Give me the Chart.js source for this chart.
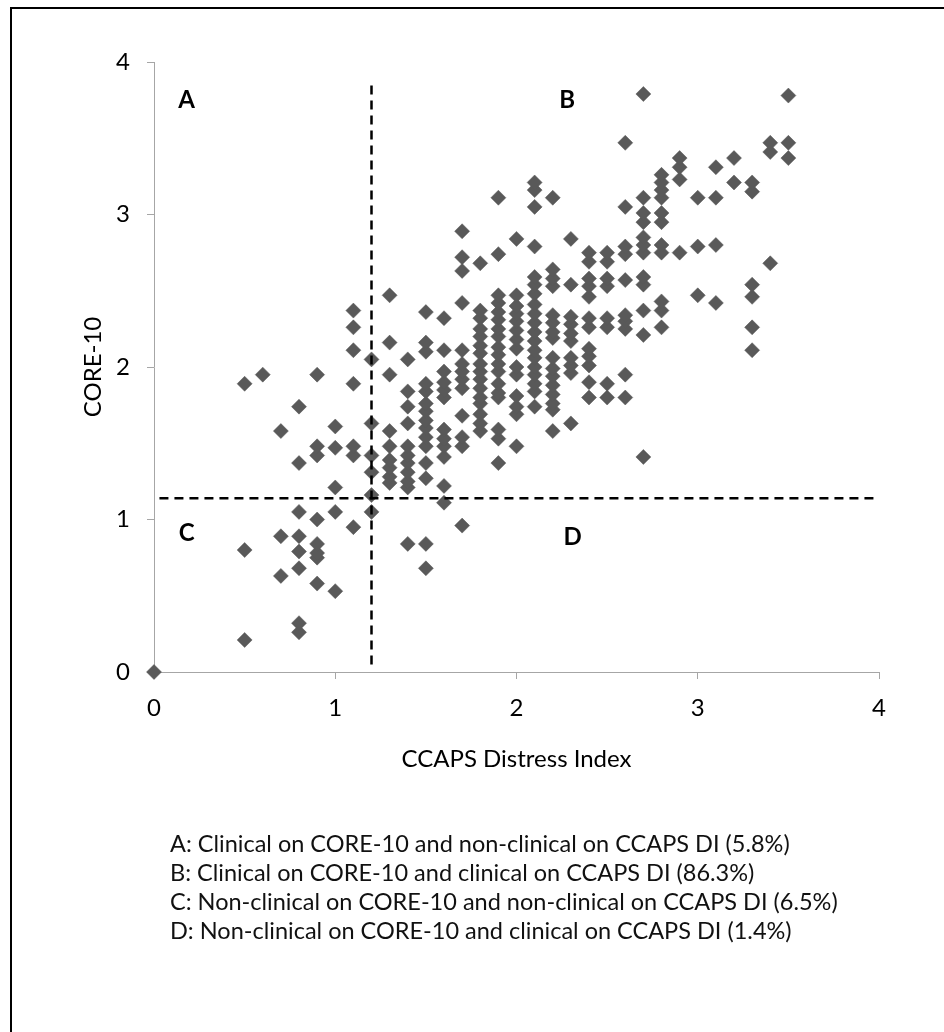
<!DOCTYPE html>
<html>
<head>
<meta charset="utf-8">
<script src="https://cdn.jsdelivr.net/npm/chart.js@4.4.1/dist/chart.umd.min.js"></script>
<style>
  html, body { margin: 0; padding: 0; background: #fff; }
  body { width: 944px; height: 1032px; position: relative; overflow: hidden; font-family: Lato, "Open Sans", sans-serif; }
  #frame { position: absolute; left: 10px; top: 7px; width: 1000px; height: 1100px; border-left: 2px solid #000; border-top: 2px solid #000; }
  #chart { position: absolute; left: 0; top: 0; }
  #notes { position: absolute; left: 170px; top: 829px; font-size: 23.5px; font-weight: 400; line-height: 29px; color: #111; white-space: nowrap; }
</style>
</head>
<body>
<div id="frame"></div>
<canvas id="chart" width="944" height="1032"></canvas>
<div id="notes"></div>
<script>
// CCAPS Distress Index levels and the CORE-10 scores observed at each level
const ccapsLevels = [0, 0.5, 0.6, 0.7, 0.8, 0.9, 1.0, 1.1, 1.2, 1.3, 1.4, 1.5, 1.6, 1.7, 1.8, 1.9, 2.0, 2.1, 2.2, 2.3, 2.4, 2.5, 2.6, 2.7, 2.8, 2.9, 3.0, 3.1, 3.2, 3.3, 3.4, 3.5];
const core10Scores = [
  [0],
  [0.21, 0.80, 1.89],
  [1.95],
  [0.63, 0.89, 1.58],
  [0.26, 0.32, 0.68, 0.79, 0.89, 1.05, 1.37, 1.74],
  [0.58, 0.75, 0.78, 0.84, 1.00, 1.42, 1.48, 1.95],
  [0.53, 1.05, 1.21, 1.47, 1.61],
  [0.95, 1.42, 1.48, 1.89, 2.11, 2.26, 2.37],
  [1.05, 1.16, 1.31, 1.42, 1.63, 2.05],
  [1.24, 1.28, 1.34, 1.39, 1.48, 1.58, 1.95, 2.16, 2.47],
  [0.84, 1.21, 1.25, 1.31, 1.37, 1.42, 1.48, 1.63, 1.74, 1.84, 2.05],
  [0.68, 0.84, 1.27, 1.37, 1.48, 1.54, 1.60, 1.65, 1.71, 1.76, 1.84, 1.89, 2.10, 2.16, 2.36],
  [1.11, 1.22, 1.41, 1.48, 1.53, 1.59, 1.80, 1.85, 1.90, 1.97, 2.11, 2.32],
  [0.96, 1.48, 1.54, 1.68, 1.86, 1.92, 1.97, 2.02, 2.11, 2.42, 2.63, 2.72, 2.89],
  [1.58, 1.63, 1.69, 1.76, 1.80, 1.86, 1.92, 1.97, 2.02, 2.09, 2.14, 2.20, 2.25, 2.32, 2.37, 2.68],
  [1.37, 1.53, 1.59, 1.80, 1.83, 1.89, 1.97, 2.02, 2.08, 2.13, 2.20, 2.25, 2.31, 2.36, 2.42, 2.47, 2.74, 3.11],
  [1.48, 1.69, 1.74, 1.81, 1.95, 2.00, 2.12, 2.18, 2.24, 2.30, 2.35, 2.40, 2.47, 2.84],
  [1.74, 1.84, 1.89, 1.95, 2.00, 2.06, 2.11, 2.17, 2.23, 2.29, 2.35, 2.41, 2.48, 2.54, 2.59, 2.79, 3.05, 3.16, 3.21],
  [1.58, 1.72, 1.76, 1.82, 1.88, 1.94, 1.99, 2.06, 2.19, 2.23, 2.29, 2.34, 2.53, 2.58, 2.64, 3.11],
  [1.63, 1.96, 2.01, 2.06, 2.17, 2.22, 2.28, 2.33, 2.54, 2.84],
  [1.80, 1.90, 2.01, 2.07, 2.12, 2.26, 2.32, 2.46, 2.53, 2.58, 2.69, 2.75],
  [1.80, 1.89, 2.26, 2.32, 2.53, 2.58, 2.69, 2.75],
  [1.80, 1.95, 2.25, 2.30, 2.34, 2.57, 2.74, 2.79, 3.05, 3.47],
  [1.41, 2.21, 2.37, 2.54, 2.59, 2.75, 2.80, 2.85, 2.95, 3.01, 3.11, 3.79],
  [2.26, 2.37, 2.43, 2.75, 2.80, 2.95, 3.01, 3.11, 3.16, 3.21, 3.26],
  [2.75, 3.23, 3.31, 3.37],
  [2.47, 2.79, 3.11],
  [2.42, 2.80, 3.11, 3.31],
  [3.21, 3.37],
  [2.11, 2.26, 2.46, 2.54, 3.15, 3.21],
  [2.68, 3.41, 3.47],
  [3.37, 3.47, 3.78]
];

// Clinical cut-offs on each measure
const ccapsCutoff = 1.2;
const core10Cutoff = 1.14;

// Axis tick values
const axisTicks = [0, 1, 2, 3, 4];

// Quadrant letters and the notes describing them
const quadrantLetters = ['A', 'B', 'C', 'D'];
const quadrantNotes = [
  'A: Clinical on CORE-10 and non-clinical on CCAPS DI (5.8%)',
  'B: Clinical on CORE-10 and clinical on CCAPS DI (86.3%)',
  'C: Non-clinical on CORE-10 and non-clinical on CCAPS DI (6.5%)',
  'D: Non-clinical on CORE-10 and clinical on CCAPS DI (1.4%)'
];

const points = [];
ccapsLevels.forEach((x, i) => core10Scores[i].forEach(y => points.push({ x: x, y: y })));

document.getElementById('notes').innerHTML = quadrantNotes.map(t => '<div>' + t + '</div>').join('');

const textFont = { family: 'Lato', size: 24, weight: '400' };
const axisGrey = '#a6a6a6';

// Letters placed in each quadrant, in data units
const letterAnchors = [
  { x: 0.18, y: 3.75 }, { x: 2.28, y: 3.75 },
  { x: 0.18, y: 0.91 }, { x: 2.31, y: 0.885 }
];
const quadrantLabelPlugin = {
  id: 'quadrantLabels',
  afterDatasetsDraw(chart) {
    const { ctx, scales } = chart;
    ctx.save();
    ctx.font = 'bold 24px Lato';
    ctx.fillStyle = '#000';
    ctx.textAlign = 'center';
    ctx.textBaseline = 'middle';
    quadrantLetters.forEach((letter, i) => {
      ctx.fillText(letter, scales.x.getPixelForValue(letterAnchors[i].x), scales.y.getPixelForValue(letterAnchors[i].y));
    });
    ctx.restore();
  }
};

new Chart(document.getElementById('chart'), {
  type: 'scatter',
  data: {
    datasets: [
      {
        type: 'line',
        data: [{ x: ccapsCutoff, y: 0.05 }, { x: ccapsCutoff, y: 3.875 }],
        borderColor: '#000', borderWidth: 2.5, borderDash: [9, 6],
        pointRadius: 0, fill: false, order: 0
      },
      {
        type: 'line',
        data: [{ x: 0.03, y: core10Cutoff }, { x: 4, y: core10Cutoff }],
        borderColor: '#000', borderWidth: 2.5, borderDash: [9, 6],
        pointRadius: 0, fill: false, order: 0
      },
      {
        data: points,
        pointStyle: 'rectRot', pointRadius: 7.5,
        backgroundColor: '#595959', borderColor: '#595959', borderWidth: 0.5,
        clip: false, order: 1
      }
    ]
  },
  options: {
    responsive: false,
    animation: false,
    devicePixelRatio: 1,
    layout: { padding: { top: 62, right: 65, left: 0, bottom: 0 } },
    plugins: { legend: { display: false }, tooltip: { enabled: false } },
    scales: {
      x: {
        type: 'linear', min: 0, max: 4,
        afterBuildTicks: s => { s.ticks = axisTicks.map(v => ({ value: v })); },
        ticks: { padding: 15, font: textFont, color: '#000' },
        grid: { drawOnChartArea: false, tickLength: 7, color: axisGrey },
        border: { color: axisGrey, width: 1 },
        title: { display: true, text: 'CCAPS Distress Index', font: textFont, color: '#000', padding: { top: 0, bottom: 258 } },
        afterFit: s => { s.height = 360; }
      },
      y: {
        type: 'linear', min: 0, max: 4,
        afterBuildTicks: s => { s.ticks = axisTicks.map(v => ({ value: v })); },
        ticks: { padding: 17, font: textFont, color: '#000' },
        grid: { drawOnChartArea: false, tickLength: 7, color: axisGrey },
        border: { color: axisGrey, width: 1 },
        title: { display: true, text: 'CORE-10', font: textFont, color: '#000', padding: { top: 79, bottom: 0 } },
        afterFit: s => { s.width = 154; }
      }
    }
  },
  plugins: [quadrantLabelPlugin]
});
</script>
</body>
</html>
